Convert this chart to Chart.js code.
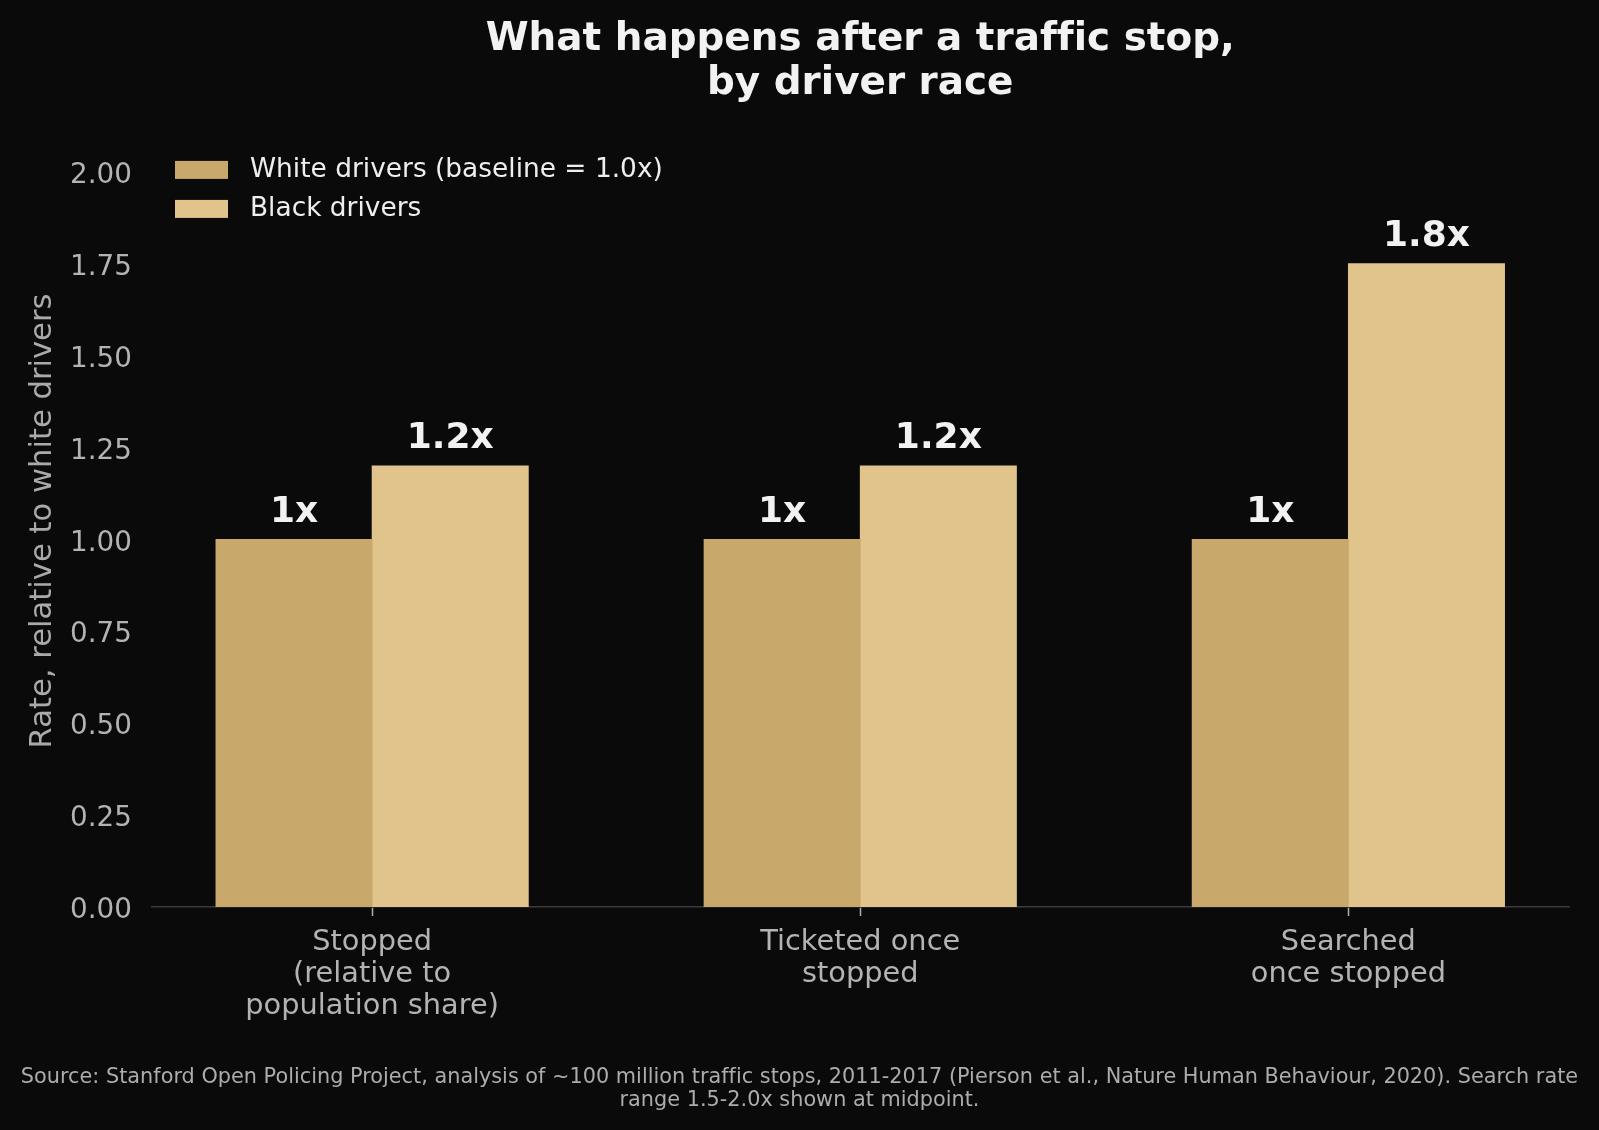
<!DOCTYPE html>
<html>
<head>
<meta charset="utf-8">
<title>What happens after a traffic stop, by driver race</title>
<script src="https://cdn.jsdelivr.net/npm/chart.js@4.4.1/dist/chart.umd.min.js"></script>
<style>
  html, body { margin: 0; padding: 0; background: #0a0a0a; overflow: hidden; }
  #wrap { width: 1599px; height: 1130px; position: relative; }
</style>
</head>
<body>
<div id="wrap"><canvas id="stopChart"></canvas></div>
<script>
// data
const categories = [
  ["Stopped", "(relative to", "population share)"],
  ["Ticketed once", "stopped"],
  ["Searched", "once stopped"]
];
const whiteRates = [1.0, 1.0, 1.0];
const blackRates = [1.2, 1.2, 1.75];
const yTicks = [0, 0.25, 0.5, 0.75, 1.0, 1.25, 1.5, 1.75, 2.0];

const titleLines = ["What happens after a traffic stop,", "by driver race"];
const sourceLines = [
  "Source: Stanford Open Policing Project, analysis of ~100 million traffic stops, 2011-2017 (Pierson et al., Nature Human Behaviour, 2020). Search rate",
  "range 1.5-2.0x shown at midpoint."
];

const FONT = "'DejaVu Sans', 'Liberation Sans', sans-serif";
Chart.defaults.font.family = FONT;

/* =========================
   NO LIGATURES (matches "traffic")
========================= */
const noLigatures = {
  id: "noLigatures",
  beforeDraw(chart) {
    chart.ctx.letterSpacing = "0.01px";
  }
};

/* =========================
   VALUE LABELS ABOVE BARS
========================= */
const valueLabels = {
  id: "valueLabels",
  afterDatasetsDraw(chart) {
    const ctx = chart.ctx;
    ctx.save();
    ctx.font = "bold 36px " + FONT;
    ctx.fillStyle = "#f2f2f2";
    ctx.textAlign = "center";
    ctx.textBaseline = "alphabetic";
    chart.data.datasets.forEach((ds, i) => {
      const meta = chart.getDatasetMeta(i);
      meta.data.forEach((bar, j) => {
        ctx.fillText(ds.fmt(ds.data[j].y), bar.x, bar.y - 17.5);
      });
    });
    ctx.restore();
  }
};

/* =========================
   LEGEND INSIDE PLOT AREA
========================= */
const innerLegend = {
  id: "innerLegend",
  afterDraw(chart) {
    const ctx = chart.ctx;
    const area = chart.chartArea;
    ctx.save();
    ctx.font = "26.4px " + FONT;
    ctx.textBaseline = "middle";
    ctx.textAlign = "left";
    chart.data.datasets.forEach((ds, i) => {
      const top = area.top + 26 + i * 39;
      ctx.fillStyle = ds.backgroundColor;
      ctx.fillRect(area.left + 23.5, top, 53, 18);
      ctx.fillStyle = "#eeeeee";
      ctx.fillText(ds.label, area.left + 98.5, top + 9);
    });
    ctx.restore();
  }
};

/* =========================
   SOURCE NOTE (centred on the figure)
========================= */
const sourceNote = {
  id: "sourceNote",
  afterDraw(chart) {
    const ctx = chart.ctx;
    ctx.save();
    ctx.font = "20.8px " + FONT;
    ctx.fillStyle = "#acacac";
    ctx.textAlign = "center";
    ctx.textBaseline = "middle";
    sourceLines.forEach((line, i) => {
      ctx.fillText(line, chart.width / 2, chart.height - 52 + i * 23);
    });
    ctx.restore();
  }
};

new Chart(document.getElementById("stopChart"), {
  type: "bar",
  data: {
    datasets: [
      {
        label: "White drivers (baseline = 1.0x)",
        data: whiteRates.map((v, i) => ({ x: i, y: v })),
        backgroundColor: "#c9a86b",
        borderWidth: 0,
        inflateAmount: 0.4,
        fmt: v => v + "x"
      },
      {
        label: "Black drivers",
        data: blackRates.map((v, i) => ({ x: i, y: v })),
        backgroundColor: "#e1c48c",
        borderWidth: 0,
        inflateAmount: 0.4,
        fmt: v => v.toFixed(1) + "x"
      }
    ]
  },
  options: {
    responsive: true,
    maintainAspectRatio: false,
    animation: false,
    categoryPercentage: 0.64,
    barPercentage: 1.0,
    layout: { padding: { left: 0, right: 30, top: 0, bottom: 0 } },
    plugins: {
      legend: { display: false },
      tooltip: { enabled: false },
      title: {
        display: true,
        fullSize: false,
        text: titleLines,
        color: "#f2f2f2",
        font: { size: 38.9, weight: "bold", lineHeight: 1.13 },
        padding: { top: 18, bottom: 29 }
      }
    },
    scales: {
      x: {
        type: "linear",
        offset: false,
        min: -0.452,
        max: 2.452,
        afterBuildTicks: scale => {
          scale.ticks = categories.map((c, i) => ({ value: i }));
        },
        afterFit: scale => { scale.height = 223; },
        ticks: {
          autoSkip: false,
          maxRotation: 0,
          padding: 10,
          color: "#b3b3b3",
          font: { size: 28.8, lineHeight: 1.12 },
          callback: value => categories[value]
        },
        grid: {
          display: true,
          offset: false,
          drawOnChartArea: false,
          drawTicks: true,
          tickLength: 9,
          tickWidth: 1.5,
          tickColor: "#b0b0b0"
        },
        border: { display: true, color: "#3a3a3a", width: 1.6 }
      },
      y: {
        min: 0,
        max: 2.1,
        afterBuildTicks: scale => {
          scale.ticks = yTicks.map(v => ({ value: v }));
        },
        afterFit: scale => { scale.width = 151.5; },
        ticks: {
          padding: 19.5,
          labelOffset: 4,
          color: "#b3b3b3",
          font: { size: 27.8 },
          callback: value => Number(value).toFixed(2)
        },
        grid: { display: false, drawTicks: false },
        border: { display: false },
        title: {
          display: true,
          text: "Rate, relative to white drivers",
          color: "#aaaaaa",
          font: { size: 30.6, lineHeight: 1.2 },
          padding: { top: 24.5, bottom: 0 }
        }
      }
    }
  },
  plugins: [noLigatures, valueLabels, innerLegend, sourceNote]
});
</script>
</body>
</html>
